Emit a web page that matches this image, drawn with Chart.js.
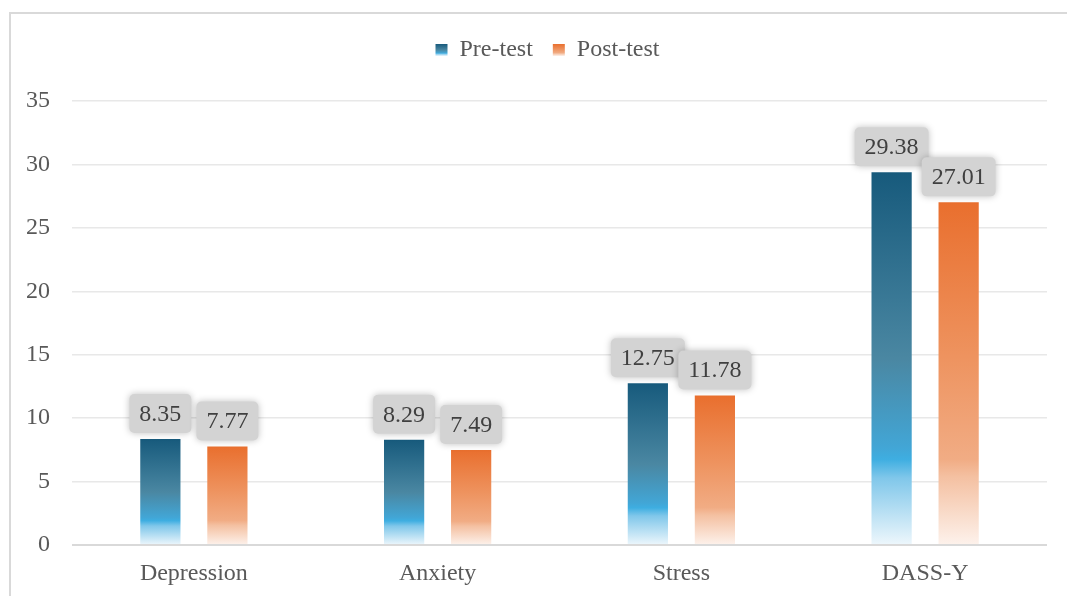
<!DOCTYPE html>
<html lang="en">
<head>
    <meta charset="UTF-8">
    <title>DASS-Y pre-test / post-test</title>
    <script src="https://cdn.jsdelivr.net/npm/chart.js"></script>
    <style>
        html, body {
            margin: 0;
            padding: 0;
            background: #fff;
            overflow: hidden;
        }
        .frame {
            position: absolute;
            left: 9px;
            top: 12px;
            width: 1100px;
            height: 700px;
            border-top: 2px solid #d9d9d9;
            border-left: 2px solid #d9d9d9;
        }
        .chart-box {
            position: absolute;
            left: 0;
            top: 0;
            width: 1067px;
            height: 596px;
        }
    </style>
</head>
<body>
    <div class="frame"></div>
    <div class="chart-box">
        <canvas id="dassChart" width="1067" height="596"></canvas>
    </div>

<script>
// データ
const categories = ['Depression', 'Anxiety', 'Stress', 'DASS-Y'];
const preTest = [8.35, 8.29, 12.75, 29.38];
const postTest = [7.77, 7.49, 11.78, 27.01];
const yTicks = [0, 5, 10, 15, 20, 25, 30, 35];

const FONT = "'Liberation Serif', 'Times New Roman', serif";

// グラデーションの色（上→下）
const blueStops = [
    [0, '#175a7c'],
    [0.5, '#4a87a2'],
    [0.74, '#42a6d6'],
    [0.77, '#3eaee1'],
    [0.82, '#80c7ea'],
    [1, '#eef7fc']
];
const orangeStops = [
    [0, '#e96f2e'],
    [0.45, '#ee935f'],
    [0.75, '#f1ac84'],
    [0.8, '#f4c0a1'],
    [1, '#fdf2ec']
];

const makeGradient = (ctx, top, bottom, stops) => {
    const g = ctx.createLinearGradient(0, top, 0, bottom);
    stops.forEach(([p, c]) => g.addColorStop(p, c));
    return g;
};

// バーごとのグラデーション
const barFill = (stops, fallback) => (context) => {
    const chart = context.chart;
    const y = chart.scales && chart.scales.y;
    if (context.type !== 'data' || !y || !chart.chartArea) return fallback;
    const v = context.dataset.data[context.dataIndex];
    const top = y.getPixelForValue(v);
    const base = y.getPixelForValue(0);
    return makeGradient(chart.ctx, top, base, stops);
};

// 凡例の下に余白を足し、少し右へずらす
const legendGap = {
    id: 'legendGap',
    beforeLayout(chart) {
        const legend = chart.legend;
        if (!legend || legend._gapPatched) return;
        const fit = legend.fit.bind(legend);
        legend.fit = function () {
            fit();
            this.height += 29;
        };
        const draw = legend.draw.bind(legend);
        legend.draw = function () {
            const c = this.ctx;
            c.save();
            c.translate(24, 0);
            draw();
            c.restore();
        };
        legend._gapPatched = true;
    }
};

// 凡例のボックスにもグラデーション
const legendGradient = {
    id: 'legendGradient',
    beforeDraw(chart) {
        const legend = chart.legend;
        if (!legend || !legend.legendHitBoxes) return;
        const all = [blueStops, orangeStops];
        legend.legendItems.forEach((item, i) => {
            const hb = legend.legendHitBoxes[i];
            if (!hb) return;
            const bh = legend.options.labels.boxHeight;
            const top = hb.top + (hb.height - bh) / 2;
            item.fillStyle = makeGradient(chart.ctx, top, top + bh, all[i]);
        });
    }
};

// 値ラベル（灰色の角丸ボックス）
const valueLabels = {
    id: 'valueLabels',
    afterDatasetsDraw(chart) {
        const ctx = chart.ctx;
        ctx.save();
        ctx.font = '24px ' + FONT;
        chart.data.datasets.forEach((ds, di) => {
            const meta = chart.getDatasetMeta(di);
            meta.data.forEach((bar, i) => {
                const text = ds.data[i].toFixed(2);
                const w = ctx.measureText(text).width + 20;
                const h = 39;
                const x = bar.x - w / 2;
                const y = bar.y - 6 - h;
                ctx.save();
                ctx.shadowColor = 'rgba(0,0,0,0.25)';
                ctx.shadowBlur = 7;
                ctx.fillStyle = '#d3d3d3';
                ctx.beginPath();
                ctx.roundRect(x, y, w, h, 5);
                ctx.fill();
                ctx.restore();
                ctx.fillStyle = '#404040';
                ctx.textAlign = 'center';
                ctx.textBaseline = 'middle';
                ctx.fillText(text, bar.x, y + h / 2 + 1);
            });
        });
        ctx.restore();
    }
};

const ctx = document.getElementById('dassChart').getContext('2d');
const dassChart = new Chart(ctx, {
    type: 'bar',
    data: {
        labels: categories,
        datasets: [{
            label: 'Pre-test',
            data: preTest,
            backgroundColor: barFill(blueStops, '#1f6688'),
            categoryPercentage: 0.55,
            barPercentage: 0.6
        }, {
            label: 'Post-test',
            data: postTest,
            backgroundColor: barFill(orangeStops, '#e97132'),
            categoryPercentage: 0.55,
            barPercentage: 0.6
        }]
    },
    options: {
        responsive: false,
        animation: false,
        devicePixelRatio: 1,
        layout: {
            padding: { top: 18, right: 20, left: 0, bottom: 0 }
        },
        plugins: {
            legend: {
                position: 'top',
                labels: {
                    boxWidth: 12,
                    boxHeight: 12,
                    padding: 20,
                    color: '#595959',
                    font: { family: FONT, size: 24 }
                }
            },
            tooltip: { enabled: false }
        },
        scales: {
            y: {
                min: 0,
                max: 35,
                afterBuildTicks(scale) {
                    scale.ticks = yTicks.map(v => ({ value: v }));
                },
                afterFit(scale) {
                    scale.width = 72;
                },
                border: { display: false },
                grid: {
                    drawTicks: false,
                    color: (c) => c.index === 0 ? '#d9d9d9' : '#e8e8e8',
                    lineWidth: (c) => c.index === 0 ? 2 : 1.5
                },
                ticks: {
                    padding: 22,
                    color: '#595959',
                    font: { family: FONT, size: 24 }
                }
            },
            x: {
                afterFit(scale) {
                    scale.height = 51;
                },
                border: { display: false },
                grid: { display: false, drawTicks: false },
                ticks: {
                    padding: 14,
                    color: '#595959',
                    font: { family: FONT, size: 24 }
                }
            }
        }
    },
    plugins: [legendGap, legendGradient, valueLabels]
});
</script>
</body>
</html>
